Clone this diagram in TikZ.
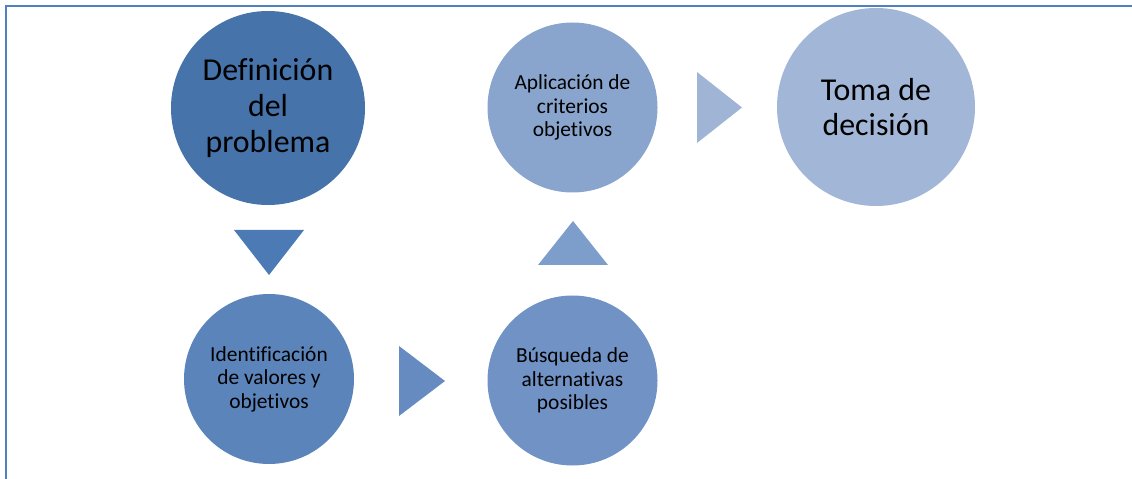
\documentclass[tikz,border=0pt]{standalone}
\usepackage{fontspec}
\setmainfont{Carlito}[Ligatures=CommonOff]
\definecolor{cDef}{RGB}{70,115,170}
\definecolor{cId}{RGB}{91,132,186}
\definecolor{cBus}{RGB}{112,146,196}
\definecolor{cApl}{RGB}{137,165,205}
\definecolor{cToma}{RGB}{162,182,215}
\definecolor{tDown}{RGB}{75,122,181}
\definecolor{tRight}{RGB}{102,139,193}
\definecolor{tUp}{RGB}{125,157,203}
\definecolor{tTop}{RGB}{160,180,213}
\definecolor{frame}{RGB}{79,129,189}
\begin{document}
\begin{tikzpicture}[x=1bp,y=-1bp,
  bigc/.style={circle,inner sep=0pt,text=black,align=center,font=\fontsize{32}{36}\selectfont},
  smallc/.style={circle,inner sep=0pt,text=black,align=center,font=\fontsize{21.5}{23.5}\selectfont}]
\useasboundingbox (0,0) rectangle (1132,479);
\draw[frame,line width=2.5bp] (6,479) -- (6,6) -- (1132,6);
\node[bigc,fill=cDef,minimum size=194bp] (def) at (268,108) {Definición\\del\\problema};
\node[smallc,fill=cId,minimum size=170bp] (ide) at (269,379) {Identificación\\de valores y\\objetivos};
\node[smallc,fill=cBus,minimum size=170bp] (bus) at (572.5,380.5) {Búsqueda de\\alternativas\\posibles};
\node[smallc,fill=cApl,minimum size=170bp] (apl) at (572.5,107.5) {Aplicación de\\criterios\\objetivos};
\node[bigc,fill=cToma,minimum size=198bp] (toma) at (876,107) {Toma de\\decisión};
% arrow triangles
\fill[tDown] (234,230) -- (304,230) -- (269,275) -- cycle;
\fill[tRight] (399,346) -- (445,381) -- (399,416) -- cycle;
\fill[tUp] (538,265) -- (608,265) -- (573,221) -- cycle;
\fill[tTop] (697,72) -- (742,107.5) -- (697,143) -- cycle;
\end{tikzpicture}
\end{document}
